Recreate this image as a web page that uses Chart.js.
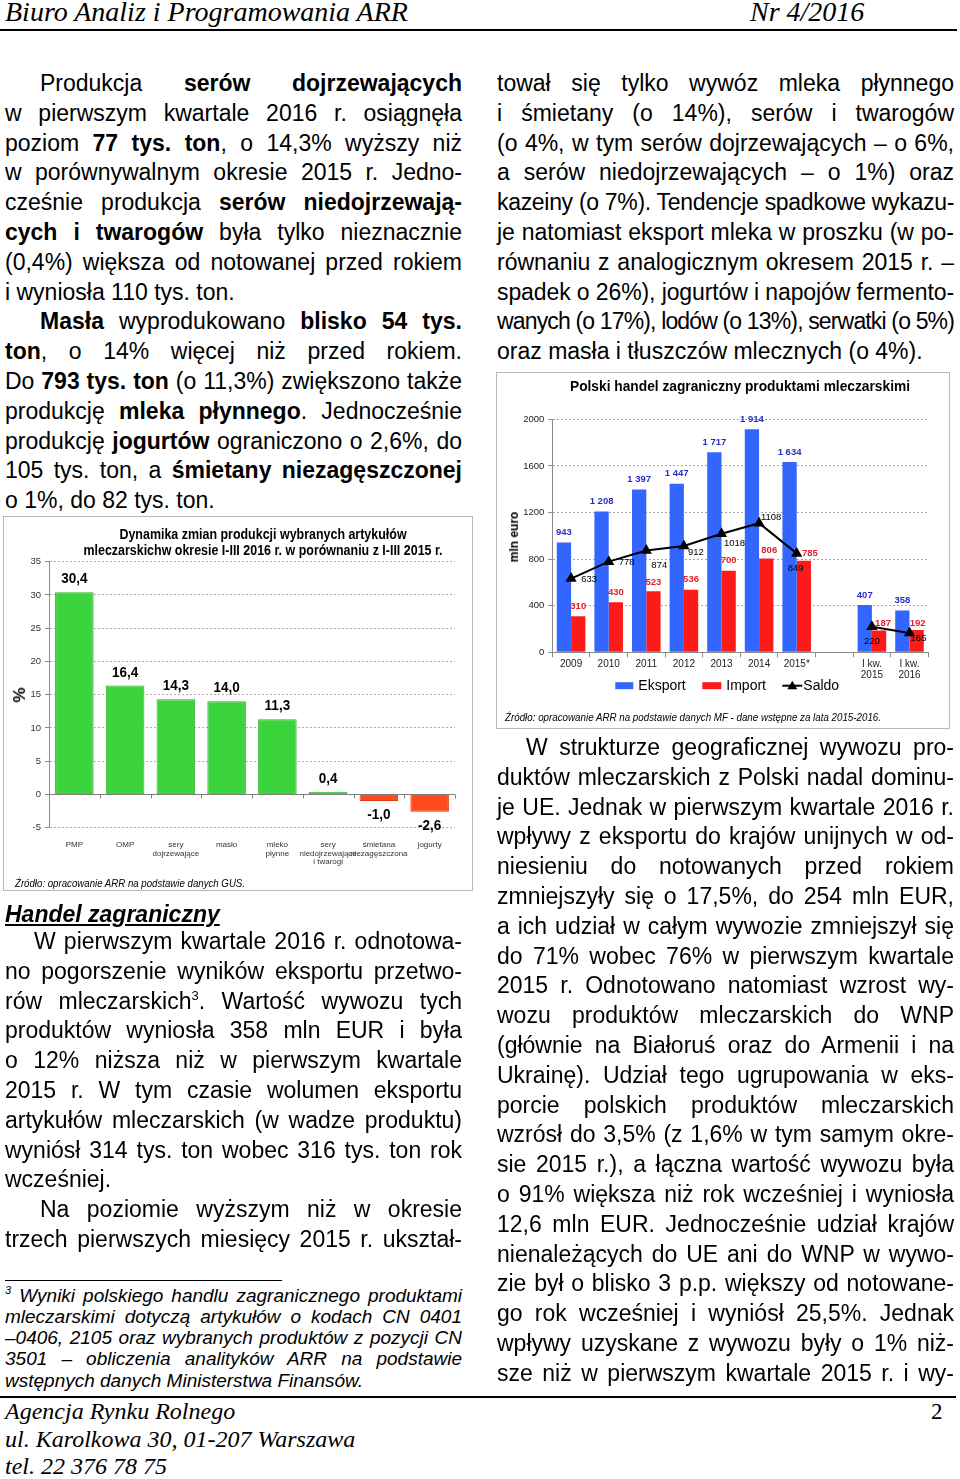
<!DOCTYPE html>
<html lang="pl">
<head>
<meta charset="utf-8">
<title>Biuro Analiz i Programowania ARR – Nr 4/2016</title>
<script src="https://cdn.jsdelivr.net/npm/chart.js@4.4.0/dist/chart.umd.min.js"></script>
<style>
  html, body { margin: 0; padding: 0; background: #fff; }
  body { width: 960px; height: 1479px; position: relative; overflow: hidden;
         font-family: "Liberation Sans", Arial, sans-serif; color: #000; }
  .serif { position: absolute; font-family: "Liberation Serif", serif; font-style: italic; white-space: nowrap; }
  .rule { position: absolute; background: #000; }
  .col { position: absolute; width: 457px; font-size: 23px; line-height: 29.8px; }
  .ln { white-space: nowrap; }
  .ind { padding-left: 35px; }
  .indw { padding-left: 29px; }
  .col sup { font-size: 13px; line-height: 0; vertical-align: 9px; }
  .note { position: absolute; left: 5px; width: 457px; font-size: 19px; line-height: 21.25px; font-style: italic; }
  .note sup { font-size: 11px; line-height: 0; vertical-align: 8px; }
  .head { position: absolute; left: 5px; font-size: 23px; line-height: 30px; font-weight: bold;
          font-style: italic; text-decoration: underline; white-space: nowrap; }
  .box { position: absolute; border: 1px solid #b9b9b9; }
  .box canvas { position: absolute; left: 0; top: 0; }
  .ov { position: absolute; white-space: nowrap; }
</style>
</head>
<body>

<div class="serif" style="left:5px;top:-4px;font-size:28px;line-height:32px">Biuro Analiz i Programowania ARR</div>
<div class="serif" style="left:750px;top:-4px;font-size:28px;line-height:32px">Nr 4/2016</div>
<div class="rule" style="left:0;top:29px;width:957px;height:2px"></div>

<!-- lewa kolumna -->
<div class="col" style="left:5px;top:69.1px">
  <div class="ln j ind">Produkcja <b>serów dojrzewających</b></div>
  <div class="ln j">w pierwszym kwartale 2016 r. osiągnęła</div>
  <div class="ln j">poziom <b>77 tys. ton</b>, o 14,3% wyższy niż</div>
  <div class="ln j">w porównywalnym okresie 2015 r. Jedno-</div>
  <div class="ln j">cześnie produkcja <b>serów niedojrzewają-</b></div>
  <div class="ln j"><b>cych i twarogów</b> była tylko nieznacznie</div>
  <div class="ln j">(0,4%) większa od notowanej przed rokiem</div>
  <div class="ln">i wyniosła 110 tys. ton.</div>
  <div class="ln j ind"><b>Masła</b> wyprodukowano <b>blisko 54 tys.</b></div>
  <div class="ln j"><b>ton</b>, o 14% więcej niż przed rokiem.</div>
  <div class="ln j">Do <b>793 tys. ton</b> (o 11,3%) zwiększono także</div>
  <div class="ln j">produkcję <b>mleka płynnego</b>. Jednocześnie</div>
  <div class="ln j">produkcję <b>jogurtów</b> ograniczono o 2,6%, do</div>
  <div class="ln j">105 tys. ton, a <b>śmietany niezagęszczonej</b></div>
  <div class="ln">o 1%, do 82 tys. ton.</div>
</div>

<div class="box" style="left:3px;top:516px;width:468px;height:373px">
  <canvas id="prodChart" width="468" height="373"></canvas>
  <div class="ov" style="left:29px;top:9.25px;width:460px;text-align:center;font-weight:bold;font-size:15px;line-height:15.5px;transform:scaleX(0.83)">Dynamika zmian produkcji wybranych artykułów<br>mleczarskichw okresie I-III 2016 r. w porównaniu z I-III 2015 r.</div>
  <div class="ov" style="left:16px;top:178px;font-weight:bold;font-size:17px;transform:translate(-50%,-50%) rotate(-90deg)">%</div>
  <div class="ov" style="left:11px;top:359px;font-style:italic;font-size:11.5px;line-height:14px;transform-origin:0 50%;transform:scaleX(0.84)">Źródło: opracowanie ARR na podstawie danych GUS.</div>
</div>

<div class="head" style="top:899.3px">Handel zagraniczny</div>

<div class="col" style="left:5px;top:927.1px">
  <div class="ln j indw">W pierwszym kwartale 2016 r. odnotowa-</div>
  <div class="ln j">no pogorszenie wyników eksportu przetwo-</div>
  <div class="ln j">rów mleczarskich<sup>3</sup>. Wartość wywozu tych</div>
  <div class="ln j">produktów wyniosła 358 mln EUR i była</div>
  <div class="ln j">o 12% niższa niż w pierwszym kwartale</div>
  <div class="ln j">2015 r. W tym czasie wolumen eksportu</div>
  <div class="ln j">artykułów mleczarskich (w wadze produktu)</div>
  <div class="ln j">wyniósł 314 tys. ton wobec 316 tys. ton rok</div>
  <div class="ln">wcześniej.</div>
  <div class="ln j ind">Na poziomie wyższym niż w okresie</div>
  <div class="ln j">trzech pierwszych miesięcy 2015 r. ukształ-</div>
</div>

<div class="rule" style="left:5px;top:1279.5px;width:277px;height:1px"></div>
<div class="note" style="top:1284.6px">
  <div class="ln j"><sup>3</sup> Wyniki polskiego handlu zagranicznego produktami</div>
  <div class="ln j">mleczarskimi dotyczą artykułów o kodach CN 0401</div>
  <div class="ln j">–0406, 2105 oraz wybranych produktów z pozycji CN</div>
  <div class="ln j">3501 – obliczenia analityków ARR na podstawie</div>
  <div class="ln">wstępnych danych Ministerstwa Finansów.</div>
</div>

<!-- prawa kolumna -->
<div class="col" style="left:497px;top:69.1px">
  <div class="ln j">tował się tylko wywóz mleka płynnego</div>
  <div class="ln j">i śmietany (o 14%), serów i twarogów</div>
  <div class="ln j">(o 4%, w tym serów dojrzewających – o 6%,</div>
  <div class="ln j">a serów niedojrzewających – o 1%) oraz</div>
  <div class="ln j">kazeiny (o 7%). Tendencje spadkowe wykazu-</div>
  <div class="ln j">je natomiast eksport mleka w proszku (w po-</div>
  <div class="ln j">równaniu z analogicznym okresem 2015 r. –</div>
  <div class="ln j">spadek o 26%), jogurtów i napojów fermento-</div>
  <div class="ln j">wanych (o 17%), lodów (o 13%), serwatki (o 5%)</div>
  <div class="ln">oraz masła i tłuszczów mlecznych (o 4%).</div>
</div>

<div class="box" style="left:496px;top:372px;width:452px;height:355px">
  <canvas id="tradeChart" width="452" height="355"></canvas>
  <div class="ov" style="left:43px;top:6px;width:400px;text-align:center;font-weight:bold;font-size:13.75px;line-height:16px">Polski handel zagraniczny produktami mleczarskimi</div>
  <div class="ov" style="left:17px;top:163.7px;font-weight:bold;font-size:12px;transform:translate(-50%,-50%) rotate(-90deg)">mln euro</div>
  <div class="ov" style="left:8px;top:337px;font-style:italic;font-size:11.5px;line-height:14px;transform-origin:0 50%;transform:scaleX(0.85)">Źródło: opracowanie ARR na podstawie danych MF - dane wstępne za lata 2015-2016.</div>
</div>

<div class="col" style="left:497px;top:733.1px">
  <div class="ln j indw">W strukturze geograficznej wywozu pro-</div>
  <div class="ln j">duktów mleczarskich z Polski nadal dominu-</div>
  <div class="ln j">je UE. Jednak w pierwszym kwartale 2016 r.</div>
  <div class="ln j">wpływy z eksportu do krajów unijnych w od-</div>
  <div class="ln j">niesieniu do notowanych przed rokiem</div>
  <div class="ln j">zmniejszyły się o 17,5%, do 254 mln EUR,</div>
  <div class="ln j">a ich udział w całym wywozie zmniejszył się</div>
  <div class="ln j">do 71% wobec 76% w pierwszym kwartale</div>
  <div class="ln j">2015 r. Odnotowano natomiast wzrost wy-</div>
  <div class="ln j">wozu produktów mleczarskich do WNP</div>
  <div class="ln j">(głównie na Białoruś oraz do Armenii i na</div>
  <div class="ln j">Ukrainę). Udział tego ugrupowania w eks-</div>
  <div class="ln j">porcie polskich produktów mleczarskich</div>
  <div class="ln j">wzrósł do 3,5% (z 1,6% w tym samym okre-</div>
  <div class="ln j">sie 2015 r.), a łączna wartość wywozu była</div>
  <div class="ln j">o 91% większa niż rok wcześniej i wyniosła</div>
  <div class="ln j">12,6 mln EUR. Jednocześnie udział krajów</div>
  <div class="ln j">nienależących do UE ani do WNP w wywo-</div>
  <div class="ln j">zie był o blisko 3 p.p. większy od notowane-</div>
  <div class="ln j">go rok wcześniej i wyniósł 25,5%. Jednak</div>
  <div class="ln j">wpływy uzyskane z wywozu były o 1% niż-</div>
  <div class="ln j">sze niż w pierwszym kwartale 2015 r. i wy-</div>
</div>

<div class="rule" style="left:0;top:1396px;width:956px;height:2px"></div>
<div class="serif" style="left:5px;top:1398.2px;font-size:24px;line-height:27.5px">Agencja Rynku Rolnego<br>ul. Karolkowa 30, 01-207 Warszawa<br>tel. 22 376 78 75</div>
<div class="serif" style="left:931px;top:1398.2px;font-size:23px;line-height:27.5px;font-style:normal">2</div>

<script>
// wykres 1 – dynamika produkcji I-III 2016 / I-III 2015 (%)
const prodCategories = ['PMP', 'OMP', ['sery', 'dojrzewające'], 'masło', ['mleko', 'płynne'],
  ['sery', 'niedojrzewające', 'i twarogi'], ['śmietana', 'niezagęszczona'], 'jogurty'];
const prodChange = [30.4, 16.4, 14.3, 14.0, 11.3, 0.4, -1.0, -2.6];
const prodMin = -5;
const prodMax = 35;
const prodStep = 5;

// wykres 2 – handel zagraniczny (mln euro)
const tradeCategories = ['2009', '2010', '2011', '2012', '2013', '2014', '2015*', '',
  ['I kw.', '2015'], ['I kw.', '2016']];
const tradeExport = [943, 1208, 1397, 1447, 1717, 1914, 1634, null, 407, 358];
const tradeImport = [310, 430, 523, 536, 700, 806, 785, null, 187, 192];
const tradeBalance = [633, 778, 874, 912, 1018, 1108, 849, null, 220, 165];
const tradeMin = 0;
const tradeMax = 2000;
const tradeStep = 400;

// przesunięcia etykiet (tylko wygląd)
const importLabelShift = [[0, -10], [0, -10], [0, -9], [0, -10], [0, -10], [3, -8], [6, -7], null, [4, -7], [1, -7]];
const balanceLabelShift = [[18, 1], [18, 1], [13, 15], [12, 6], [13, 10], [12, -6], [-1, 15], null, [0, 15], [9, 5]];

const FONT = '"Liberation Sans", Arial, sans-serif';
Chart.defaults.font.family = FONT;
Chart.defaults.color = '#222';

const GREEN = '#3cd43c';
const ORANGE = '#ff4a1c';
const BLUE = '#3366ff';
const RED = '#ff1a1a';

const prodPlugin = {
  id: 'prodPlugin',
  beforeDatasetsDraw(chart) {
    // krótkie kreski na osi zero
    const { ctx, scales: { x, y } } = chart;
    const y0 = y.getPixelForValue(0);
    const n = prodCategories.length;
    ctx.save();
    ctx.strokeStyle = '#7f7f7f';
    ctx.lineWidth = 1;
    for (let i = 0; i <= n; i++) {
      const px = Math.round(x.left + (x.width / n) * i) + 0.5;
      ctx.beginPath();
      ctx.moveTo(px, y0);
      ctx.lineTo(px, y0 + 4);
      ctx.stroke();
    }
    ctx.restore();
  },
  afterDatasetsDraw(chart) {
    const { ctx } = chart;
    const meta = chart.getDatasetMeta(0);
    ctx.save();
    ctx.font = 'bold 15px ' + FONT;
    ctx.fillStyle = '#000';
    ctx.textAlign = 'center';
    ctx.textBaseline = 'middle';
    meta.data.forEach((bar, i) => {
      const v = prodChange[i];
      const ly = v >= 0 ? bar.y - 13 : bar.y + 14;
      ctx.save();
      ctx.translate(bar.x, ly);
      ctx.scale(0.9, 1);
      ctx.fillText(v.toFixed(1).replace('.', ','), 0, 0);
      ctx.restore();
    });
    ctx.restore();
  },
};

new Chart(document.getElementById('prodChart'), {
  type: 'bar',
  data: {
    labels: prodCategories,
    datasets: [{
      data: prodChange,
      backgroundColor: (c) => (c.raw >= 0 ? GREEN : ORANGE),
      borderColor: (c) => (c.raw >= 0 ? '#2cb32c' : '#df3a10'),
      borderWidth: 1,
      categoryPercentage: 0.76,
      barPercentage: 1,
    }],
  },
  options: {
    responsive: false,
    animation: false,
    devicePixelRatio: 1,
    layout: { padding: { top: 44.7, right: 17, bottom: 22.3, left: 0 } },
    plugins: { legend: { display: false }, tooltip: { enabled: false } },
    scales: {
      x: {
        grid: { display: false },
        border: { display: false },
        ticks: { color: '#333', font: { size: 8, lineHeight: 1.05 }, padding: 5, autoSkip: false, maxRotation: 0 },
        afterFit: (s) => { s.height = 40; },
      },
      y: {
        min: prodMin,
        max: prodMax,
        ticks: { stepSize: prodStep, color: '#333', font: { size: 9.5 }, padding: 4, callback: (v) => String(v) },
        grid: {
          color: (c) => (c.tick && c.tick.value === 0 ? '#7f7f7f' : '#b0b0b0'),
          tickColor: '#8a8a8a',
          tickLength: 4,
        },
        border: { color: '#8a8a8a', dash: (c) => (c.tick && c.tick.value === 0 ? [] : [2, 2]) },
        afterFit: (s) => { s.width = 45; },
      },
    },
  },
  plugins: [prodPlugin],
});

function spaced(v) {
  return String(v).replace(/\B(?=(\d{3})+(?!\d))/g, ' ');
}

const tradePlugin = {
  id: 'tradePlugin',
  afterDatasetsDraw(chart) {
    const { ctx } = chart;
    const lineMeta = chart.getDatasetMeta(0);
    const expMeta = chart.getDatasetMeta(1);
    const impMeta = chart.getDatasetMeta(2);
    ctx.save();
    ctx.textAlign = 'center';
    ctx.textBaseline = 'middle';

    ctx.font = 'bold 9.5px ' + FONT;
    ctx.fillStyle = '#2a2fc0';
    expMeta.data.forEach((bar, i) => {
      if (tradeExport[i] == null) return;
      ctx.fillText(spaced(tradeExport[i]), bar.x, bar.y - 10);
    });

    ctx.fillStyle = '#e3202a';
    impMeta.data.forEach((bar, i) => {
      if (tradeImport[i] == null) return;
      const [dx, dy] = importLabelShift[i];
      ctx.fillText(String(tradeImport[i]), bar.x + dx, bar.y + dy);
    });

    ctx.font = '9.5px ' + FONT;
    ctx.fillStyle = '#000';
    lineMeta.data.forEach((pt, i) => {
      if (tradeBalance[i] == null) return;
      const [dx, dy] = balanceLabelShift[i];
      ctx.fillText(String(tradeBalance[i]), pt.x + dx, pt.y + dy);
    });
    ctx.restore();
  },
  afterDraw(chart) {
    // legenda
    const { ctx, chartArea } = chart;
    const ly = chartArea.bottom + 33.4;
    const lx = chartArea.left;
    ctx.save();
    ctx.font = '14px ' + FONT;
    ctx.textBaseline = 'middle';
    ctx.textAlign = 'left';
    ctx.fillStyle = BLUE;
    ctx.fillRect(lx + 63, ly - 3.5, 18, 7);
    ctx.fillStyle = '#000';
    ctx.fillText('Eksport', lx + 86, ly);
    ctx.fillStyle = RED;
    ctx.fillRect(lx + 150, ly - 3.5, 19, 7);
    ctx.fillStyle = '#000';
    ctx.fillText('Import', lx + 174, ly);
    ctx.strokeStyle = '#000';
    ctx.lineWidth = 2;
    ctx.beginPath();
    ctx.moveTo(lx + 230, ly);
    ctx.lineTo(lx + 250, ly);
    ctx.stroke();
    ctx.beginPath();
    ctx.moveTo(lx + 240, ly - 5);
    ctx.lineTo(lx + 245, ly + 3.5);
    ctx.lineTo(lx + 235, ly + 3.5);
    ctx.closePath();
    ctx.fill();
    ctx.fillText('Saldo', lx + 251, ly);
    ctx.restore();
  },
};

new Chart(document.getElementById('tradeChart'), {
  type: 'bar',
  data: {
    labels: tradeCategories,
    datasets: [
      {
        type: 'line',
        label: 'Saldo',
        data: tradeBalance,
        borderColor: '#000',
        backgroundColor: '#000',
        borderWidth: 2,
        tension: 0,
        spanGaps: false,
        pointStyle: 'triangle',
        pointRadius: 4.5,
        pointBackgroundColor: '#000',
        pointBorderColor: '#000',
        order: 0,
      },
      {
        label: 'Eksport',
        data: tradeExport,
        backgroundColor: BLUE,
        categoryPercentage: 0.76,
        barPercentage: 1,
        order: 1,
      },
      {
        label: 'Import',
        data: tradeImport,
        backgroundColor: RED,
        categoryPercentage: 0.76,
        barPercentage: 1,
        order: 1,
      },
    ],
  },
  options: {
    responsive: false,
    animation: false,
    devicePixelRatio: 1,
    layout: { padding: { top: 46.3, right: 20.7, bottom: 30.7, left: 0 } },
    plugins: { legend: { display: false }, tooltip: { enabled: false } },
    scales: {
      x: {
        grid: { drawOnChartArea: false, color: '#8a8a8a', tickLength: 5 },
        border: { color: '#8a8a8a' },
        ticks: { color: '#222', font: { size: 10, lineHeight: 1.1 }, padding: 1, autoSkip: false, maxRotation: 0 },
        afterFit: (s) => { s.height = 45; },
      },
      y: {
        min: tradeMin,
        max: tradeMax,
        ticks: { stepSize: tradeStep, color: '#222', font: { size: 9.5 }, padding: 4, callback: (v) => String(v) },
        grid: { color: '#a6a6a6', tickColor: '#8a8a8a', tickLength: 4 },
        border: { color: '#8a8a8a', dash: [2, 2] },
        afterFit: (s) => { s.width = 55.3; },
      },
    },
  },
  plugins: [tradePlugin],
});

// wyrównanie tekstu do obu marginesów, linia po linii
function justifyLines() {
  document.querySelectorAll('.ln').forEach((el) => {
    const span = document.createElement('span');
    while (el.firstChild) span.appendChild(el.firstChild);
    el.appendChild(span);
    const pad = parseFloat(getComputedStyle(el).paddingLeft) || 0;
    const target = el.clientWidth - pad;
    const text = el.textContent.replace(/\s+$/, '');
    let natural = span.getBoundingClientRect().width;
    if (natural > target) {
      el.style.letterSpacing = ((target - natural) / text.length) + 'px';
      natural = span.getBoundingClientRect().width;
    }
    const spaces = (text.match(/ /g) || []).length;
    if (el.classList.contains('j') && spaces > 0) {
      el.style.wordSpacing = ((target - natural) / spaces) + 'px';
    }
  });
}
justifyLines();
</script>
</body>
</html>
